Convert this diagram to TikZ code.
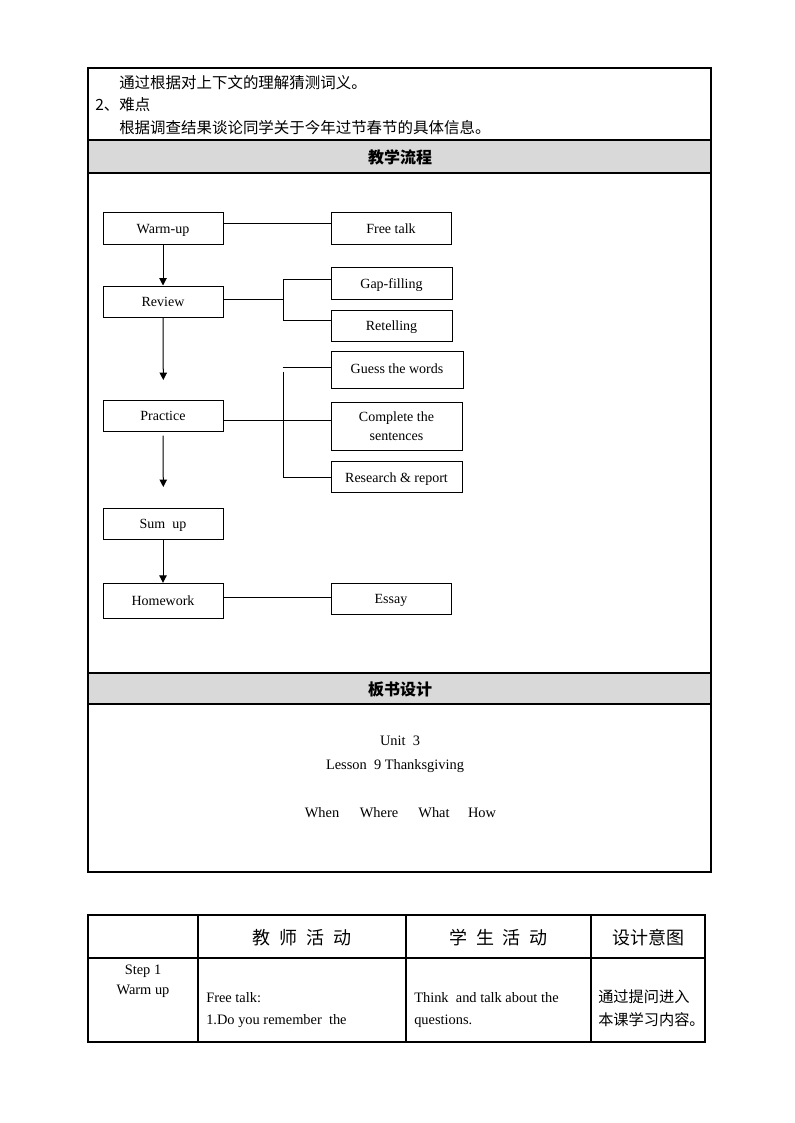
\documentclass[tikz,border=0pt]{standalone}
\usepackage{fontspec}
\setmainfont{Liberation Serif}
\newfontfamily\cjk{Noto Sans CJK SC}
\newfontfamily\cjkwide[WordSpace=2.2]{Noto Sans CJK SC}
\usetikzlibrary{arrows.meta}
\begin{document}
\begin{tikzpicture}[x=0.75pt,y=-0.75pt,
  frame/.style={line width=1pt},
  box/.style={draw,line width=0.75pt,inner sep=1pt,align=center,font=\fontsize{10.5}{14}\selectfont},
  onebox/.style={box,text height=8pt,text depth=0.5pt},
  conn/.style={line width=0.75pt},
  arr/.style={line width=0.75pt,-{Triangle[width=5.5pt,length=5.5pt]}},
  cjktxt/.style={inner sep=0pt,font=\cjk\fontsize{11.6}{14}\selectfont},
  hdrtxt/.style={inner sep=0pt,font=\cjk\bfseries\fontsize{12}{14}\selectfont},
  entxt/.style={inner sep=0pt,font=\fontsize{10.8}{13}\selectfont},
  colhdr/.style={inner sep=0pt,font=\cjkwide\fontsize{13.5}{16}\selectfont}]
\definecolor{hdrgray}{RGB}{217,217,217}
\useasboundingbox (0,0) rectangle (794,1123);
% ---------- top table ----------
\fill[hdrgray] (88.5,141) rectangle (710.5,172.5);
\fill[hdrgray] (88.5,674) rectangle (710.5,703.5);
\draw[frame] (88,68) rectangle (711,872);
\draw[frame] (88,140) -- (711,140);
\draw[frame] (88,173) -- (711,173);
\draw[frame] (88,673) -- (711,673);
\draw[frame] (88,704) -- (711,704);
\node[cjktxt,anchor=west] (t1) at (119,82.5) {通过根据对上下文的理解猜测词义。};
\node[cjktxt,anchor=west] (t2) at (95,104.5) {2、难点};
\node[cjktxt,anchor=west] (t3) at (119,127.5) {根据调查结果谈论同学关于今年过节春节的具体信息。};
\node[hdrtxt] (h1) at (400,157) {教学流程};
\node[hdrtxt] (h2) at (400,689) {板书设计};
% ---------- flowchart ----------
\node[onebox,minimum width=90pt,minimum height=23.25pt] (warm) at (163,228.5) {Warm-up};
\node[onebox,minimum width=90pt,minimum height=23.25pt] (free) at (391,228.5) {Free talk};
\node[onebox,minimum width=90pt,minimum height=23.25pt] (review) at (163,301.5) {Review};
\node[onebox,minimum width=90.75pt,minimum height=24pt] (gap) at (391.5,283.5) {Gap-filling};
\node[onebox,minimum width=90.75pt,minimum height=22.9pt] (ret) at (391.5,325.8) {Retelling};
\node[box,text height=6.5pt,text depth=1pt,minimum width=99pt,minimum height=27.75pt] (guess) at (397,369.5) {Guess the words};
\node[onebox,minimum width=90pt,minimum height=23.6pt] (practice) at (163,415.8) {Practice};
\node[box,minimum width=98.25pt,minimum height=36pt] (comp) at (396.5,426) {Complete the\\sentences};
\node[onebox,minimum width=98.25pt,minimum height=23.25pt] (res) at (396.5,477) {Research \& report};
\node[onebox,minimum width=90pt,minimum height=23.25pt] (sum) at (163,523.5) {Sum\ \ up};
\node[onebox,minimum width=90pt,minimum height=26.25pt] (home) at (163,600.8) {Homework};
\node[onebox,minimum width=90pt,minimum height=23.25pt] (essay) at (391,598.8) {Essay};
% side connectors
\draw[conn] (warm.east |- 0,223.3) -- (free.west |- 0,223.3);
\coordinate (rj) at (283.3,299.3);
\coordinate (rt) at (283.3,279.3);
\coordinate (rb) at (283.3,320);
\draw[conn] (review.east |- rj) -- (rj);
\draw[conn] (gap.west |- rt) -- (rt) -- (rb) -- (ret.west |- rb);
\coordinate (pt) at (282.7,367.7);
\coordinate (pv) at (283.3,372.3);
\coordinate (pb) at (283.3,477.7);
\draw[conn] (pt) -- (guess.west |- pt);
\draw[conn] (pv) -- (pb) -- (res.west |- pb);
\draw[conn] (practice.east |- 0,420) -- (comp.west |- 0,420);
\draw[conn] (home.east |- 0,597.7) -- (essay.west |- 0,597.7);
% down arrows
\coordinate (a1) at (163.3,380);
\coordinate (a2) at (163.3,487);
\draw[arr] (warm.south) -- (review.north);
\draw[arr] (review.south) -- (a1);
\draw[arr,shorten <=2.6pt] (practice.south) -- (a2);
\draw[arr] (sum.south) -- (home.north);
% ---------- board design ----------
\node[entxt] (u) at (400,741) {Unit\ \ 3};
\node[entxt] (l) at (395,766) {Lesson\ \ 9 Thanksgiving};
\node[entxt] (w1) at (322,813) {When};
\node[entxt] (w2) at (379,813) {Where};
\node[entxt] (w3) at (434,813) {What};
\node[entxt] (w4) at (482,813) {How};
% ---------- bottom table ----------
\draw[frame] (88,915) rectangle (705,1042);
\draw[frame] (88,958) -- (705,958);
\draw[frame] (198,915) -- (198,1042);
\draw[frame] (406,915) -- (406,1042);
\draw[frame] (591,915) -- (591,1042);
\node[colhdr] (c2) at (302,938) {教 师 活 动};
\node[colhdr] (c3) at (498.5,938) {学 生 活 动};
\node[colhdr] (c4) at (648,938) {设计意图};
\node[entxt] (s1) at (143,971) {Step 1};
\node[entxt] (s2) at (143,991) {Warm up};
\node[entxt,anchor=west] (f1) at (206,998) {Free talk:};
\node[entxt,anchor=west] (f2) at (206,1021) {1.Do you remember\ \ the};
\node[entxt,anchor=west] (k1) at (414,998) {Think\ \ and talk about the};
\node[entxt,anchor=west] (k2) at (414,1021) {questions.};
\node[cjktxt,anchor=west,font=\cjk\fontsize{11.4}{14}\selectfont] (z1) at (598,997) {通过提问进入};
\node[cjktxt,anchor=west,font=\cjk\fontsize{11.4}{14}\selectfont] (z2) at (598,1020) {本课学习内容。};
\end{tikzpicture}
\end{document}
